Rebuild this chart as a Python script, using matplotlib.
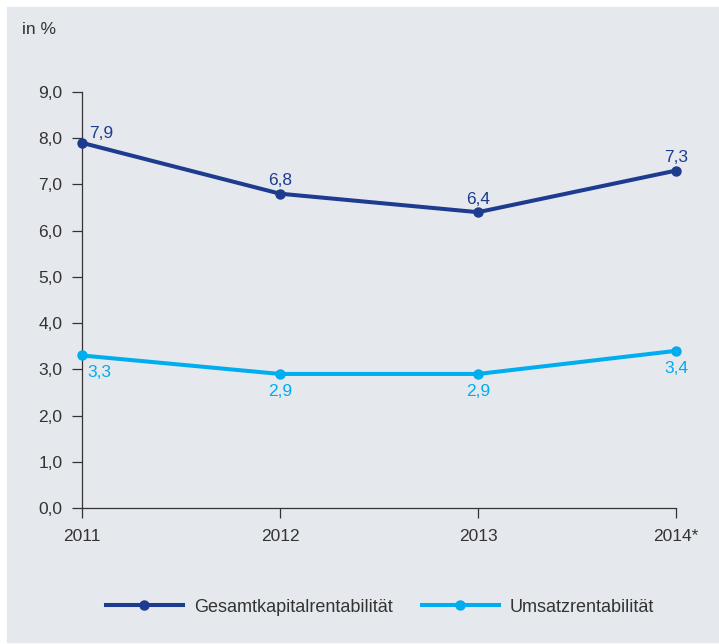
import matplotlib.pyplot as plt
from matplotlib.patches import Rectangle

plt.rcParams['font.family'] = ['Liberation Sans', 'DejaVu Sans']

jahre = ['2011', '2012', '2013', '2014*']
gesamtkapital = [7.9, 6.8, 6.4, 7.3]
umsatz = [3.3, 2.9, 2.9, 3.4]
y_ticks = [0, 1, 2, 3, 4, 5, 6, 7, 8, 9]

dunkelblau = '#1d3c8f'
hellblau = '#00adee'
bg = '#e5e8ed'
txt = '#333333'

W, H = 719, 644
fig = plt.figure(figsize=(W / 100, H / 100), dpi=100)
fig.add_artist(Rectangle((7 / W, 2 / H), 1 - 7 / W, 1 - 9 / H,
                         transform=fig.transFigure, color=bg, zorder=-10))

ax = fig.add_axes([82 / W, (H - 508) / H, (676 - 82) / W, (508 - 92) / H])
ax.set_facecolor('none')
ax.set_zorder(1)

x = list(range(len(jahre)))
ax.plot(x, gesamtkapital, color=dunkelblau, lw=2.9, marker='o', ms=6.5,
        label='Gesamtkapitalrentabilität', clip_on=False, zorder=3)
ax.plot(x, umsatz, color=hellblau, lw=2.9, marker='o', ms=6.5,
        label='Umsatzrentabilität', clip_on=False, zorder=3)

# Datenbeschriftungen
fs = 12.5
for i, v in enumerate(gesamtkapital):
    s = f'{v:.1f}'.replace('.', ',')
    if i == 0:
        ax.annotate(s, (i, v), xytext=(5, 1), textcoords='offset points',
                    ha='left', va='bottom', color=dunkelblau, fontsize=fs)
    else:
        ax.annotate(s, (i, v), xytext=(0, 4), textcoords='offset points',
                    ha='center', va='bottom', color=dunkelblau, fontsize=fs)
for i, v in enumerate(umsatz):
    s = f'{v:.1f}'.replace('.', ',')
    if i == 0:
        ax.annotate(s, (i, v), xytext=(4, -7), textcoords='offset points',
                    ha='left', va='top', color=hellblau, fontsize=fs)
    else:
        ax.annotate(s, (i, v), xytext=(0, -7.5), textcoords='offset points',
                    ha='center', va='top', color=hellblau, fontsize=fs)

ax.set_xlim(0, 3)
ax.set_ylim(0, 9)
ax.set_xticks(x)
ax.set_xticklabels(jahre)
ax.set_yticks(y_ticks)
ax.set_yticklabels([f'{t:.1f}'.replace('.', ',') for t in y_ticks])
ax.tick_params(axis='both', colors=txt, labelcolor=txt, labelsize=fs,
               length=7, width=0.9, direction='out')
ax.tick_params(axis='y', pad=7)
ax.tick_params(axis='x', pad=8)
for side in ['top', 'right']:
    ax.spines[side].set_visible(False)
for side in ['left', 'bottom']:
    ax.spines[side].set_color(txt)
    ax.spines[side].set_linewidth(0.9)

fig.text(22 / W, 1 - 30 / H, 'in %', fontsize=12.5, color=txt, va='center', ha='left')

fig.legend(loc='center', bbox_to_anchor=(380 / W, 1 - 607 / H), ncol=2,
           frameon=False, fontsize=13, handlelength=4.3, handletextpad=0.6,
           columnspacing=1.6, labelcolor=txt)

fig.savefig('out.png', dpi=100)
